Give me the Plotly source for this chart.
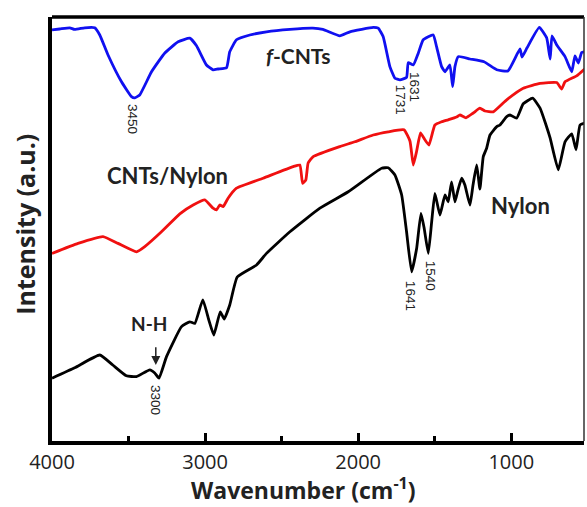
import plotly.graph_objects as go

# ---- data (wavenumber in cm^-1, intensity in arbitrary units) ----
fcnt_wn = [4000, 3950, 3884, 3852, 3786, 3721, 3688, 3634, 3546, 3481, 3459, 3427, 3350, 3263, 3176,
           3100, 3056, 2991, 2948, 2915, 2860, 2839, 2795, 2708, 2599, 2446, 2296, 2231, 2120, 2054,
           1902, 1869, 1837, 1793, 1760, 1727, 1684, 1673, 1640, 1608, 1575, 1510, 1488, 1455, 1433,
           1401, 1383, 1368, 1346, 1270, 1178, 1095, 1022, 943, 930, 897, 817, 769, 746, 734, 703,
           649, 605, 584, 562, 540, 521]
fcnt_int = [102.8, 103.0, 103.3, 102.9, 103.3, 103.3, 101.5, 96.5, 89.8, 86.1, 85.8, 86.5, 92.3, 97.0, 99.8,
            100.7, 98.8, 94.0, 92.8, 93.0, 93.3, 97.3, 100.3, 101.5, 102.3, 102.9, 103.2, 102.9, 101.3, 102.3,
            103.4, 103.2, 101.1, 93.6, 90.7, 90.3, 90.9, 94.6, 94.0, 96.9, 100.3, 101.5, 98.6, 93.6, 92.3,
            94.0, 88.6, 93.6, 96.1, 95.5, 94.8, 92.8, 92.5, 98.0, 96.0, 98.3, 103.4, 100.8, 95.5, 101.3, 99.0,
            96.1, 92.3, 96.3, 94.5, 97.1, 97.3]

cnt_nylon_wn = [4000, 3830, 3667, 3569, 3448, 3394, 3285, 3165, 3078, 3002, 2948, 2925, 2904, 2882, 2850,
                2795, 2621, 2425, 2381, 2363, 2342, 2327, 2294, 2120, 2022, 1902, 1804, 1701, 1662, 1640,
                1618, 1593, 1564, 1538, 1499, 1455, 1412, 1357, 1335, 1296, 1248, 1205, 1172, 1118, 1030,
                922, 812, 703, 671, 649, 573, 521]
cnt_nylon_int = [46.9, 49.4, 51.1, 49.4, 47.3, 48.6, 52.3, 56.8, 59.0, 60.3, 58.2, 57.8, 59.0, 58.6, 60.7,
                 63.2, 65.7, 68.6, 69.0, 64.4, 65.3, 69.5, 71.1, 73.6, 74.8, 76.5, 77.3, 77.8, 75.0, 69.0,
                 72.5, 77.0, 75.3, 74.0, 79.0, 79.8, 80.3, 81.0, 81.5, 80.8, 82.0, 83.2, 82.5, 82.3, 85.3,
                 88.2, 89.4, 89.6, 88.0, 89.8, 91.3, 93.0]

nylon_wn = [4000, 3852, 3688, 3603, 3514, 3448, 3361, 3329, 3301, 3252, 3154, 3100, 3067, 3015, 2976,
            2943, 2901, 2875, 2839, 2790, 2664, 2599, 2446, 2250, 2065, 1847, 1804, 1760, 1716, 1684,
            1651, 1618, 1590, 1569, 1542, 1520, 1499, 1466, 1433, 1412, 1390, 1368, 1348, 1324, 1303,
            1270, 1250, 1226, 1205, 1183, 1161, 1139, 1095, 1074, 1030, 1008, 965, 922, 860, 812, 773,
            746, 693, 649, 605, 577, 551, 521]
nylon_int = [15.7, 18.3, 21.5, 19.0, 16.3, 16.1, 17.8, 17.0, 15.7, 21.1, 28.6, 29.8, 29.4, 35.3, 30.3,
             26.5, 32.3, 30.5, 34.0, 41.0, 44.0, 46.9, 52.3, 58.2, 62.3, 68.2, 68.3, 66.5, 61.5, 52.3,
             42.3, 48.2, 56.9, 53.2, 46.9, 54.8, 61.9, 56.5, 61.5, 59.8, 64.8, 59.8, 62.8, 65.7, 64.0,
             59.0, 64.0, 69.0, 63.0, 71.1, 73.2, 76.5, 78.6, 79.0, 81.1, 81.5, 80.7, 84.3, 85.7, 83.2, 79.0,
             75.7, 67.8, 74.8, 76.8, 72.8, 79.0, 79.5]

x_ticks = [4000, 3000, 2000, 1000]
x_tick_labels = ["4000", "3000", "2000", "1000"]

peak_labels = ["3450", "1731", "1631", "1641", "1540", "3300"]
peak_wn = [3471, 1727, 1629, 1662, 1531, 3329]
peak_int = [80.5, 85.3, 88.5, 36.3, 41.3, 10.3]

series_labels = ["<b><i>f</i>-CNTs</b>", "<b>CNTs/Nylon</b>", "<b>Nylon</b>", "<b>N-H</b>"]
series_label_wn = [2390, 3244, 943, 3368]
series_label_int = [96.3, 66.5, 59.0, 29.3]
series_label_size = [21, 22, 22, 19]

X_RANGE = [4000, 525]
Y_RANGE = [0, 106]

fig = go.Figure()
fig.add_trace(go.Scatter(x=fcnt_wn, y=fcnt_int, mode="lines",
                         line=dict(color="#1010f0", width=2.8, shape="spline", smoothing=0.4),
                         name="f-CNTs"))
fig.add_trace(go.Scatter(x=cnt_nylon_wn, y=cnt_nylon_int, mode="lines",
                         line=dict(color="#f01010", width=2.8, shape="spline", smoothing=0.4),
                         name="CNTs/Nylon"))
fig.add_trace(go.Scatter(x=nylon_wn, y=nylon_int, mode="lines",
                         line=dict(color="#000000", width=2.8, shape="spline", smoothing=0.4),
                         name="Nylon"))

for t, xv, yv in zip(peak_labels, peak_wn, peak_int):
    fig.add_annotation(x=xv, y=yv, text=t, textangle=90, showarrow=False,
                       font=dict(family="Liberation Sans", size=13.5, color="#222"))

for t, xv, yv, s in zip(series_labels, series_label_wn, series_label_int, series_label_size):
    fig.add_annotation(x=xv, y=yv, text=t, showarrow=False,
                       font=dict(family="Lato", size=s, color="#222"))

# N-H arrow
fig.add_annotation(x=3322, y=19.0, ax=3322, ay=23.8, axref="x", ayref="y",
                   text="", showarrow=True, arrowhead=2, arrowsize=1.2, arrowwidth=1.5,
                   arrowcolor="#222")

# axis titles
fig.add_annotation(xref="paper", yref="paper", x=0.473, y=-0.114, xanchor="center", yanchor="middle",
                   text="<b>Wavenumber (cm<sup>-1</sup>)</b>", showarrow=False,
                   font=dict(family="Open Sans", size=23, color="#222"))
fig.add_annotation(xref="paper", yref="paper", x=-0.051, y=0.512, xanchor="center", yanchor="middle",
                   textangle=-90, text="<b>Intensity (a.u.)</b>", showarrow=False,
                   font=dict(family="Open Sans", size=25, color="#222"))

# frame: top (thick) and right (thin)
fig.add_shape(type="line", xref="paper", yref="paper", x0=0, x1=1, y0=1, y1=1,
              line=dict(color="black", width=3.5))
fig.add_shape(type="line", xref="paper", yref="paper", x0=1, x1=1, y0=0, y1=1,
              line=dict(color="#333", width=1.5))

fig.update_xaxes(range=X_RANGE, showgrid=False, zeroline=False,
                 showline=True, linecolor="black", linewidth=4,
                 tickmode="array", tickvals=x_ticks, ticktext=x_tick_labels,
                 ticks="inside", ticklen=8, tickwidth=3, tickcolor="black",
                 minor=dict(ticks="inside", ticklen=5, tickwidth=3, tickcolor="black", dtick=500, tick0=0),
                 tickfont=dict(family="Open Sans", size=20, color="#222"))
fig.update_yaxes(range=Y_RANGE, showgrid=False, zeroline=False, showticklabels=False,
                 showline=True, linecolor="black", linewidth=4, ticks="")

fig.update_layout(width=587, height=507, showlegend=False,
                  margin=dict(l=52, r=3, t=17, b=66),
                  plot_bgcolor="white", paper_bgcolor="white")

fig.write_html("out.html", config={"displayModeBar": False},
               post_script="document.body.style.margin='0';document.body.style.overflow='hidden';")
